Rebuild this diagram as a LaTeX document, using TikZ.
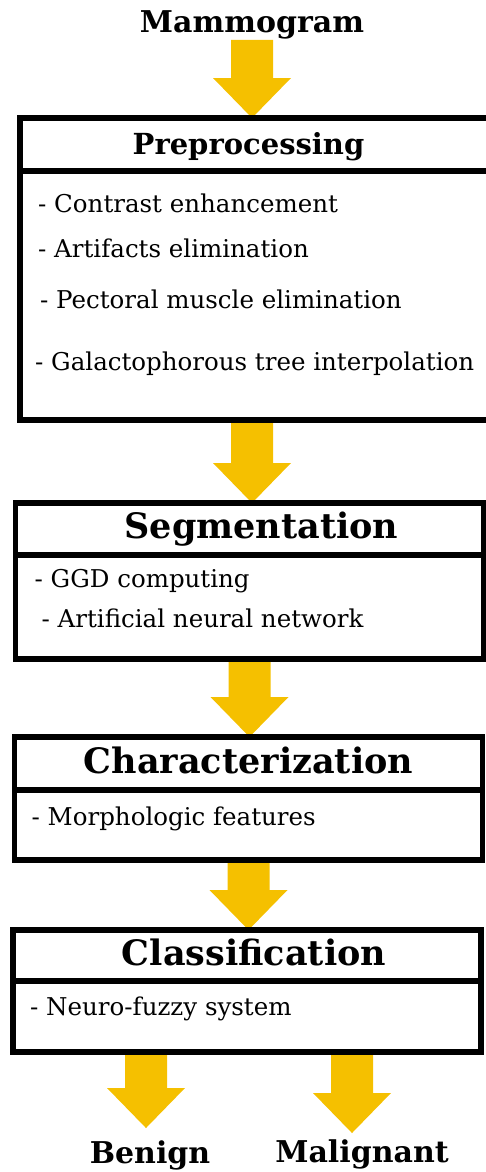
\documentclass[tikz,border=0pt]{standalone}
\usepackage{fontspec}
\setmainfont{DejaVu Serif}
\usetikzlibrary{calc,positioning,backgrounds}

\definecolor{arrowgold}{RGB}{245,192,0}

% fat yellow arrow going straight down from #1 to #2
\newcommand{\fatarrow}[2]{%
  \fill[arrowgold] let \p1=(#1), \p2=(#2) in
    (\x1-21pt,\y1) -- (\x1+21pt,\y1) -- (\x1+21pt,\y2+40pt) -- (\x1+39pt,\y2+40pt)
    -- (\x1,\y2) -- (\x1-39pt,\y2+40pt) -- (\x1-21pt,\y2+40pt) -- cycle;}

\begin{document}
\begin{tikzpicture}[x=1pt, y=-1pt,
    titlebox/.style={draw, line width=5.5pt, outer sep=0pt, inner sep=0pt,
      minimum width=468pt, minimum height=#1, text height=27pt, text depth=8pt,
      font=\fontsize{35}{40}\selectfont\bfseries},
    bodybox/.style={draw, line width=5.5pt, outer sep=0pt, inner sep=0pt,
      minimum width=468pt, minimum height=#1},
    item/.style={inner sep=0pt, anchor=base west, font=\fontsize{24.5}{28}\selectfont},
    outcome/.style={inner sep=0pt, anchor=base, font=\fontsize{30}{34}\selectfont\bfseries}]
    \useasboundingbox (0,0) rectangle (486,1172);

    \node[outcome] (mam) at (252,33) {Mammogram};

    % Preprocessing
    \node[titlebox=53pt, minimum width=480pt, font=\fontsize{29}{34}\selectfont\bfseries]
      (pre) at (260,144.5) {Preprocessing\hspace*{23pt}};
    \node[bodybox=249pt, minimum width=480pt, below=0pt of pre] (prebody) {};
    \node[item] (pre1) at ($(prebody.north west)+(18,41)$) {- Contrast enhancement};
    \node[item] (pre2) at ($(prebody.north west)+(18,86)$) {- Artifacts elimination};
    \node[item] (pre3) at ($(prebody.north west)+(20,137)$) {- Pectoral muscle elimination};
    \node[item] (pre4) at ($(prebody.north west)+(15,199)$) {- Galactophorous tree interpolation};

    % Segmentation
    \node[titlebox=52pt] (seg) at (249.5,529) {\hspace*{24pt}Segmentation};
    \node[bodybox=104pt, below=0pt of seg] (segbody) {};
    \node[item] (seg1) at ($(segbody.north west)+(19,32)$) {- GGD computing};
    \node[item] (seg2) at ($(segbody.north west)+(26,72)$) {- Artificial neural network};

    % Characterization
    \node[titlebox=53pt] (chr) at (248.5,763.5) {Characterization};
    \node[bodybox=70pt, below=0pt of chr] (chrbody) {};
    \node[item] (chr1) at ($(chrbody.north west)+(17,35)$) {- Morphologic features};

    % Classification
    \node[titlebox=51pt] (cls) at (247,955.5) {\hspace*{14pt}Classification};
    \node[bodybox=71pt, below=0pt of cls] (clsbody) {};
    \node[item] (cls1) at ($(clsbody.north west)+(17,34)$) {- Neuro-fuzzy system};

    \node[outcome] (ben) at (150,1163) {Benign};
    \node[outcome] (mal) at (362,1162) {Malignant};
    \coordinate (bentip) at ($(ben.north)+(-4,-12)$);
    \coordinate (maltip) at ($(mal.north)+(-10,-6)$);

    \begin{pgfonlayer}{background}
      \fatarrow{mam.south}{pre.north -| mam}
      \fatarrow{prebody.south -| mam}{seg.north -| mam}
      \fatarrow{segbody.south}{chr.north}
      \fatarrow{chrbody.south}{cls.north}
      \fatarrow{clsbody.south -| bentip}{bentip}
      \fatarrow{clsbody.south -| maltip}{maltip}
    \end{pgfonlayer}
\end{tikzpicture}
\end{document}
